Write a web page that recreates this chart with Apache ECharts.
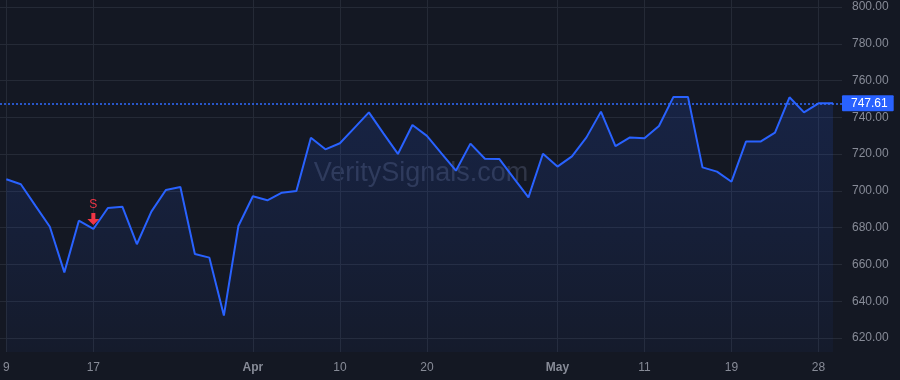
<!DOCTYPE html>
<html>
<head>
<meta charset="utf-8">
<script src="https://cdn.jsdelivr.net/npm/echarts@6/dist/echarts.min.js"></script>
<style>
html,body{margin:0;padding:0;background:#141823;}
#chart{width:900px;height:380px;}
</style>
</head>
<body>
<div id="chart"></div>
<script>
var dates = [
'2026-03-09','2026-03-10','2026-03-11','2026-03-12','2026-03-13','2026-03-16','2026-03-17','2026-03-18','2026-03-19','2026-03-20',
'2026-03-23','2026-03-24','2026-03-25','2026-03-26','2026-03-27','2026-03-30','2026-03-31',
'2026-04-01','2026-04-02','2026-04-06','2026-04-07','2026-04-08','2026-04-09','2026-04-10','2026-04-13','2026-04-14',
'2026-04-15','2026-04-16','2026-04-17','2026-04-20','2026-04-21','2026-04-22','2026-04-23','2026-04-24','2026-04-27',
'2026-04-28','2026-04-29','2026-04-30',
'2026-05-01','2026-05-04','2026-05-05','2026-05-06','2026-05-07','2026-05-08','2026-05-11','2026-05-12','2026-05-13',
'2026-05-14','2026-05-15','2026-05-18','2026-05-19','2026-05-20','2026-05-21','2026-05-22','2026-05-26','2026-05-27',
'2026-05-28','2026-05-29'
];
var prices = [
706.3,703.6,692.0,680.5,655.7,683.8,679.3,690.7,691.4,671.0,
688.7,700.5,702.1,665.7,663.7,632.2,680.9,
697.1,694.9,699.0,700.0,728.9,722.6,725.9,734.3,742.7,
731.3,720.1,735.8,729.9,720.4,711.0,725.7,717.5,717.3,
706.8,696.5,720.2,
713.2,718.8,729.1,743.1,724.4,729.1,728.6,735.3,751.1,
751.1,712.8,710.5,705.0,726.8,726.8,731.7,750.9,742.7,
747.61,747.61
];
var tickDates  = ['2026-03-09','2026-03-17','2026-04-01','2026-04-10','2026-04-20','2026-05-01','2026-05-11','2026-05-19','2026-05-28'];
var tickLabels = ['9','17','Apr','10','20','May','11','19','28'];
var boldTicks  = ['Apr','May'];
var signalDates  = ['2026-03-17'];
var signalLabels = ['S'];
var lastPrice = prices[prices.length - 1];

var FONT = "'Liberation Sans', Arial, sans-serif";
var TXT = '#878b97';
var GRIDC = '#252a36';

var chart = echarts.init(document.getElementById('chart'), null, {renderer: 'canvas'});

function tickLabelFor(v) {
  var i = tickDates.indexOf(v);
  return i < 0 ? '' : tickLabels[i];
}

var option = {
  backgroundColor: '#141823',
  animation: false,
  graphic: [{
    type: 'text',
    z: 0,
    style: {
      x: 421, y: 174,
      text: 'VeritySignals.com',
      font: '27px ' + FONT,
      fill: 'rgba(105,115,145,0.33)',
      align: 'center',
      verticalAlign: 'middle'
    }
  }],
  grid: [
    {left: 0, right: 58, top: 7, bottom: 42},
    {left: 6, right: 67, top: 0, bottom: 28}
  ],
  xAxis: [
    {gridIndex: 0, type: 'value', min: 0, max: 1, show: false},
    {
      gridIndex: 1, type: 'category', data: dates, boundaryGap: false,
      axisLine: {show: false}, axisTick: {show: false},
      axisLabel: {
        interval: function (idx, v) { return tickDates.indexOf(v) >= 0; },
        formatter: function (v) {
          var t = tickLabelFor(v);
          return boldTicks.indexOf(t) >= 0 ? '{b|' + t + '}' : t;
        },
        color: TXT, fontSize: 12, fontFamily: FONT, margin: 10,
        rich: {b: {fontWeight: 'bold', color: TXT, fontSize: 12, fontFamily: FONT}}
      },
      splitLine: {
        show: true,
        interval: function (idx, v) { return tickDates.indexOf(v) >= 0; },
        lineStyle: {color: GRIDC, width: 1}
      }
    }
  ],
  yAxis: [
    {
      gridIndex: 0, type: 'value', position: 'right', min: 620, max: 800, interval: 20,
      axisLine: {show: false}, axisTick: {show: false},
      axisLabel: {
        color: TXT, fontSize: 12, fontFamily: FONT, margin: 10, align: 'left',
        padding: [4, 0, 0, 0],
        formatter: function (v) { return v.toFixed(2); }
      },
      splitLine: {show: true, lineStyle: {color: GRIDC, width: 1}}
    },
    {gridIndex: 1, type: 'value', min: 612.4, max: 803.8, show: false, splitLine: {show: false}}
  ],
  series: [
    {
      type: 'line', xAxisIndex: 0, yAxisIndex: 0,
      data: [], silent: true, z: 1,
      markLine: {
        silent: true, symbol: 'none',
        lineStyle: {color: '#2f6bff', width: 1.5, type: [2, 2]},
        label: {
          show: true, position: 'end', distance: 0,
          formatter: function () { return lastPrice.toFixed(2); },
          backgroundColor: '#2962ff', color: '#ffffff',
          fontSize: 12, fontFamily: FONT, lineHeight: 12,
          padding: [2, 6, 2, 9], borderRadius: 1
        },
        data: [{yAxis: lastPrice}]
      }
    },
    {
      type: 'line', xAxisIndex: 1, yAxisIndex: 1,
      data: prices, showSymbol: false, symbol: 'none', z: 3,
      lineStyle: {color: '#2962ff', width: 2},
      areaStyle: {
        origin: 'start',
        color: new echarts.graphic.LinearGradient(0, 0, 0, 1, [
          {offset: 0, color: 'rgba(41,98,255,0.22)'},
          {offset: 1, color: 'rgba(41,98,255,0.06)'}
        ])
      },
      markPoint: {
        silent: true,
        symbol: 'path://M4,0 L8,0 L8,6 L12,6 L6,12 L0,6 L4,6 Z',
        symbolSize: [12, 12],
        symbolOffset: [0, -10],
        itemStyle: {color: '#f23645'},
        label: {
          show: true, position: 'top', distance: 2,
          color: '#f23645', fontSize: 12, fontFamily: FONT
        },
        data: signalDates.map(function (d, i) {
          return {coord: [d, prices[dates.indexOf(d)]], value: signalLabels[i],
                  label: {formatter: signalLabels[i]}};
        })
      }
    }
  ]
};
chart.setOption(option);
</script>
</body>
</html>
